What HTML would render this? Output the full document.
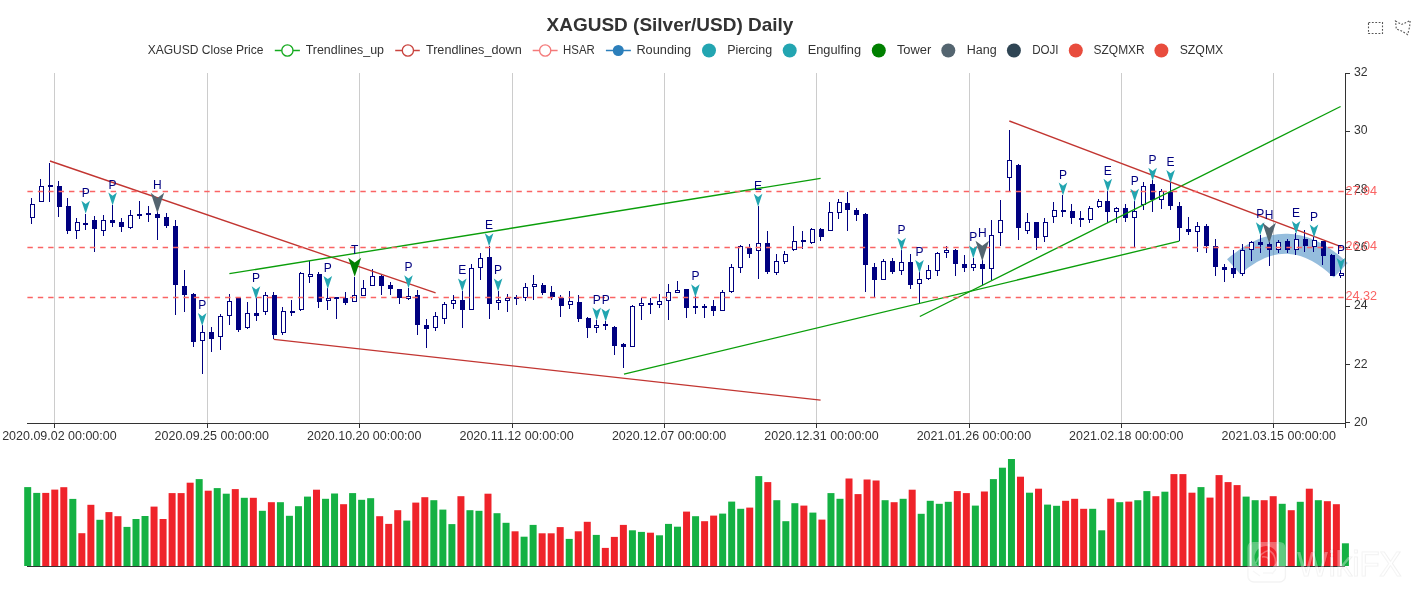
<!DOCTYPE html>
<html><head><meta charset="utf-8"><style>html,body{margin:0;padding:0;background:#fff;width:1412px;height:598px;overflow:hidden}</style></head>
<body><svg width="1412" height="598" viewBox="0 0 1412 598" style="display:block;font-family:'Liberation Sans', sans-serif;will-change:transform">
<rect width="1412" height="598" fill="#fff"/>
<line x1="54.5" y1="73" x2="54.5" y2="423" stroke="#ccc" stroke-width="1"/>
<line x1="207.5" y1="73" x2="207.5" y2="423" stroke="#ccc" stroke-width="1"/>
<line x1="359.5" y1="73" x2="359.5" y2="423" stroke="#ccc" stroke-width="1"/>
<line x1="512.5" y1="73" x2="512.5" y2="423" stroke="#ccc" stroke-width="1"/>
<line x1="664.5" y1="73" x2="664.5" y2="423" stroke="#ccc" stroke-width="1"/>
<line x1="816.5" y1="73" x2="816.5" y2="423" stroke="#ccc" stroke-width="1"/>
<line x1="969.5" y1="73" x2="969.5" y2="423" stroke="#ccc" stroke-width="1"/>
<line x1="1121.5" y1="73" x2="1121.5" y2="423" stroke="#ccc" stroke-width="1"/>
<line x1="1273.5" y1="73" x2="1273.5" y2="423" stroke="#ccc" stroke-width="1"/>
<path d="M1233.7,266.8 Q1287.3,219 1340.8,270.3" fill="none" stroke="#2c7bbb" stroke-opacity="0.5" stroke-width="20"/>
<rect x="31" y="198" width="1" height="6" fill="#000080"/>
<rect x="31" y="218" width="1" height="6" fill="#000080"/>
<rect x="30" y="204" width="5" height="14" fill="#000080"/>
<rect x="31" y="205" width="3" height="12" fill="#fff"/>
<rect x="40" y="179" width="1" height="7" fill="#000080"/>
<rect x="39" y="186" width="5" height="16" fill="#000080"/>
<rect x="40" y="187" width="3" height="14" fill="#fff"/>
<rect x="49" y="163" width="1" height="39" fill="#000080"/>
<rect x="48" y="185" width="5" height="2" fill="#000080"/>
<rect x="58" y="181" width="1" height="5" fill="#000080"/>
<rect x="58" y="207" width="1" height="10" fill="#000080"/>
<rect x="57" y="186" width="5" height="21" fill="#000080"/>
<rect x="67" y="198" width="1" height="8" fill="#000080"/>
<rect x="67" y="231" width="1" height="3" fill="#000080"/>
<rect x="66" y="206" width="5" height="25" fill="#000080"/>
<rect x="76" y="218" width="1" height="4" fill="#000080"/>
<rect x="76" y="231" width="1" height="8" fill="#000080"/>
<rect x="75" y="222" width="5" height="9" fill="#000080"/>
<rect x="76" y="223" width="3" height="7" fill="#fff"/>
<rect x="85" y="214" width="1" height="16" fill="#000080"/>
<rect x="83" y="223" width="5" height="2" fill="#000080"/>
<rect x="94" y="216" width="1" height="4" fill="#000080"/>
<rect x="94" y="229" width="1" height="23" fill="#000080"/>
<rect x="92" y="220" width="5" height="9" fill="#000080"/>
<rect x="103" y="215" width="1" height="5" fill="#000080"/>
<rect x="103" y="231" width="1" height="5" fill="#000080"/>
<rect x="101" y="220" width="5" height="11" fill="#000080"/>
<rect x="102" y="221" width="3" height="9" fill="#fff"/>
<rect x="112" y="205" width="1" height="15" fill="#000080"/>
<rect x="112" y="223" width="1" height="4" fill="#000080"/>
<rect x="110" y="220" width="5" height="3" fill="#000080"/>
<rect x="121" y="218" width="1" height="4" fill="#000080"/>
<rect x="121" y="227" width="1" height="5" fill="#000080"/>
<rect x="119" y="222" width="5" height="5" fill="#000080"/>
<rect x="130" y="210" width="1" height="5" fill="#000080"/>
<rect x="130" y="228" width="1" height="1" fill="#000080"/>
<rect x="128" y="215" width="5" height="13" fill="#000080"/>
<rect x="129" y="216" width="3" height="11" fill="#fff"/>
<rect x="139" y="201" width="1" height="18" fill="#000080"/>
<rect x="137" y="214" width="5" height="2" fill="#000080"/>
<rect x="148" y="206" width="1" height="16" fill="#000080"/>
<rect x="146" y="213" width="5" height="2" fill="#000080"/>
<rect x="157" y="212" width="1" height="2" fill="#000080"/>
<rect x="157" y="218" width="1" height="22" fill="#000080"/>
<rect x="155" y="214" width="5" height="4" fill="#000080"/>
<rect x="166" y="213" width="1" height="4" fill="#000080"/>
<rect x="166" y="226" width="1" height="2" fill="#000080"/>
<rect x="164" y="217" width="5" height="9" fill="#000080"/>
<rect x="175" y="220" width="1" height="6" fill="#000080"/>
<rect x="175" y="285" width="1" height="30" fill="#000080"/>
<rect x="173" y="226" width="5" height="59" fill="#000080"/>
<rect x="184" y="270" width="1" height="16" fill="#000080"/>
<rect x="184" y="295" width="1" height="17" fill="#000080"/>
<rect x="182" y="286" width="5" height="9" fill="#000080"/>
<rect x="193" y="293" width="1" height="1" fill="#000080"/>
<rect x="193" y="342" width="1" height="5" fill="#000080"/>
<rect x="191" y="294" width="5" height="48" fill="#000080"/>
<rect x="202" y="325" width="1" height="7" fill="#000080"/>
<rect x="202" y="341" width="1" height="33" fill="#000080"/>
<rect x="200" y="332" width="5" height="9" fill="#000080"/>
<rect x="201" y="333" width="3" height="7" fill="#fff"/>
<rect x="211" y="327" width="1" height="5" fill="#000080"/>
<rect x="211" y="339" width="1" height="13" fill="#000080"/>
<rect x="209" y="332" width="5" height="7" fill="#000080"/>
<rect x="220" y="314" width="1" height="2" fill="#000080"/>
<rect x="220" y="337" width="1" height="13" fill="#000080"/>
<rect x="218" y="316" width="5" height="21" fill="#000080"/>
<rect x="219" y="317" width="3" height="19" fill="#fff"/>
<rect x="229" y="294" width="1" height="7" fill="#000080"/>
<rect x="229" y="316" width="1" height="9" fill="#000080"/>
<rect x="227" y="301" width="5" height="15" fill="#000080"/>
<rect x="228" y="302" width="3" height="13" fill="#fff"/>
<rect x="238" y="297" width="1" height="1" fill="#000080"/>
<rect x="238" y="330" width="1" height="2" fill="#000080"/>
<rect x="236" y="298" width="5" height="32" fill="#000080"/>
<rect x="247" y="302" width="1" height="11" fill="#000080"/>
<rect x="247" y="328" width="1" height="1" fill="#000080"/>
<rect x="245" y="313" width="5" height="15" fill="#000080"/>
<rect x="246" y="314" width="3" height="13" fill="#fff"/>
<rect x="256" y="298" width="1" height="15" fill="#000080"/>
<rect x="256" y="316" width="1" height="5" fill="#000080"/>
<rect x="254" y="313" width="5" height="3" fill="#000080"/>
<rect x="265" y="292" width="1" height="3" fill="#000080"/>
<rect x="265" y="312" width="1" height="3" fill="#000080"/>
<rect x="263" y="295" width="5" height="17" fill="#000080"/>
<rect x="264" y="296" width="3" height="15" fill="#fff"/>
<rect x="273" y="292" width="1" height="3" fill="#000080"/>
<rect x="273" y="335" width="1" height="4" fill="#000080"/>
<rect x="272" y="295" width="5" height="40" fill="#000080"/>
<rect x="282" y="307" width="1" height="4" fill="#000080"/>
<rect x="282" y="333" width="1" height="2" fill="#000080"/>
<rect x="281" y="311" width="5" height="22" fill="#000080"/>
<rect x="282" y="312" width="3" height="20" fill="#fff"/>
<rect x="291" y="300" width="1" height="16" fill="#000080"/>
<rect x="290" y="311" width="5" height="2" fill="#000080"/>
<rect x="300" y="272" width="1" height="1" fill="#000080"/>
<rect x="300" y="310" width="1" height="1" fill="#000080"/>
<rect x="299" y="273" width="5" height="37" fill="#000080"/>
<rect x="300" y="274" width="3" height="35" fill="#fff"/>
<rect x="309" y="261" width="1" height="13" fill="#000080"/>
<rect x="309" y="277" width="1" height="6" fill="#000080"/>
<rect x="308" y="274" width="5" height="3" fill="#000080"/>
<rect x="309" y="275" width="3" height="1" fill="#fff"/>
<rect x="318" y="272" width="1" height="2" fill="#000080"/>
<rect x="318" y="302" width="1" height="6" fill="#000080"/>
<rect x="317" y="274" width="5" height="28" fill="#000080"/>
<rect x="327" y="288" width="1" height="10" fill="#000080"/>
<rect x="327" y="301" width="1" height="9" fill="#000080"/>
<rect x="326" y="298" width="5" height="3" fill="#000080"/>
<rect x="327" y="299" width="3" height="1" fill="#fff"/>
<rect x="336" y="297" width="1" height="22" fill="#000080"/>
<rect x="334" y="297" width="5" height="2" fill="#000080"/>
<rect x="345" y="292" width="1" height="6" fill="#000080"/>
<rect x="345" y="303" width="1" height="2" fill="#000080"/>
<rect x="343" y="298" width="5" height="5" fill="#000080"/>
<rect x="354" y="277" width="1" height="18" fill="#000080"/>
<rect x="352" y="295" width="5" height="7" fill="#000080"/>
<rect x="353" y="296" width="3" height="5" fill="#fff"/>
<rect x="363" y="280" width="1" height="8" fill="#000080"/>
<rect x="361" y="288" width="5" height="8" fill="#000080"/>
<rect x="362" y="289" width="3" height="6" fill="#fff"/>
<rect x="372" y="269" width="1" height="7" fill="#000080"/>
<rect x="370" y="276" width="5" height="10" fill="#000080"/>
<rect x="371" y="277" width="3" height="8" fill="#fff"/>
<rect x="381" y="275" width="1" height="1" fill="#000080"/>
<rect x="381" y="286" width="1" height="9" fill="#000080"/>
<rect x="379" y="276" width="5" height="10" fill="#000080"/>
<rect x="390" y="282" width="1" height="3" fill="#000080"/>
<rect x="390" y="289" width="1" height="6" fill="#000080"/>
<rect x="388" y="285" width="5" height="4" fill="#000080"/>
<rect x="399" y="298" width="1" height="6" fill="#000080"/>
<rect x="397" y="289" width="5" height="9" fill="#000080"/>
<rect x="408" y="288" width="1" height="8" fill="#000080"/>
<rect x="408" y="299" width="1" height="1" fill="#000080"/>
<rect x="406" y="296" width="5" height="3" fill="#000080"/>
<rect x="407" y="297" width="3" height="1" fill="#fff"/>
<rect x="417" y="290" width="1" height="5" fill="#000080"/>
<rect x="417" y="325" width="1" height="10" fill="#000080"/>
<rect x="415" y="295" width="5" height="30" fill="#000080"/>
<rect x="426" y="319" width="1" height="6" fill="#000080"/>
<rect x="426" y="329" width="1" height="19" fill="#000080"/>
<rect x="424" y="325" width="5" height="4" fill="#000080"/>
<rect x="435" y="312" width="1" height="4" fill="#000080"/>
<rect x="435" y="328" width="1" height="3" fill="#000080"/>
<rect x="433" y="316" width="5" height="12" fill="#000080"/>
<rect x="434" y="317" width="3" height="10" fill="#fff"/>
<rect x="444" y="302" width="1" height="2" fill="#000080"/>
<rect x="444" y="319" width="1" height="5" fill="#000080"/>
<rect x="442" y="304" width="5" height="15" fill="#000080"/>
<rect x="443" y="305" width="3" height="13" fill="#fff"/>
<rect x="453" y="295" width="1" height="5" fill="#000080"/>
<rect x="453" y="304" width="1" height="5" fill="#000080"/>
<rect x="451" y="300" width="5" height="4" fill="#000080"/>
<rect x="452" y="301" width="3" height="2" fill="#fff"/>
<rect x="462" y="291" width="1" height="9" fill="#000080"/>
<rect x="462" y="310" width="1" height="18" fill="#000080"/>
<rect x="460" y="300" width="5" height="10" fill="#000080"/>
<rect x="471" y="264" width="1" height="4" fill="#000080"/>
<rect x="469" y="268" width="5" height="42" fill="#000080"/>
<rect x="470" y="269" width="3" height="40" fill="#fff"/>
<rect x="480" y="253" width="1" height="5" fill="#000080"/>
<rect x="480" y="268" width="1" height="12" fill="#000080"/>
<rect x="478" y="258" width="5" height="10" fill="#000080"/>
<rect x="479" y="259" width="3" height="8" fill="#fff"/>
<rect x="489" y="246" width="1" height="11" fill="#000080"/>
<rect x="489" y="304" width="1" height="15" fill="#000080"/>
<rect x="487" y="257" width="5" height="47" fill="#000080"/>
<rect x="498" y="291" width="1" height="9" fill="#000080"/>
<rect x="498" y="303" width="1" height="7" fill="#000080"/>
<rect x="496" y="300" width="5" height="3" fill="#000080"/>
<rect x="497" y="301" width="3" height="1" fill="#fff"/>
<rect x="507" y="294" width="1" height="4" fill="#000080"/>
<rect x="507" y="301" width="1" height="11" fill="#000080"/>
<rect x="505" y="298" width="5" height="3" fill="#000080"/>
<rect x="506" y="299" width="3" height="1" fill="#fff"/>
<rect x="516" y="295" width="1" height="10" fill="#000080"/>
<rect x="514" y="297" width="5" height="2" fill="#000080"/>
<rect x="525" y="283" width="1" height="4" fill="#000080"/>
<rect x="525" y="298" width="1" height="3" fill="#000080"/>
<rect x="523" y="287" width="5" height="11" fill="#000080"/>
<rect x="524" y="288" width="3" height="9" fill="#fff"/>
<rect x="533" y="275" width="1" height="9" fill="#000080"/>
<rect x="533" y="287" width="1" height="13" fill="#000080"/>
<rect x="532" y="284" width="5" height="3" fill="#000080"/>
<rect x="533" y="285" width="3" height="1" fill="#fff"/>
<rect x="542" y="283" width="1" height="2" fill="#000080"/>
<rect x="542" y="293" width="1" height="2" fill="#000080"/>
<rect x="541" y="285" width="5" height="8" fill="#000080"/>
<rect x="551" y="286" width="1" height="6" fill="#000080"/>
<rect x="551" y="297" width="1" height="3" fill="#000080"/>
<rect x="550" y="292" width="5" height="5" fill="#000080"/>
<rect x="560" y="295" width="1" height="3" fill="#000080"/>
<rect x="560" y="306" width="1" height="11" fill="#000080"/>
<rect x="559" y="298" width="5" height="8" fill="#000080"/>
<rect x="569" y="291" width="1" height="10" fill="#000080"/>
<rect x="569" y="305" width="1" height="4" fill="#000080"/>
<rect x="568" y="301" width="5" height="4" fill="#000080"/>
<rect x="569" y="302" width="3" height="2" fill="#fff"/>
<rect x="578" y="295" width="1" height="7" fill="#000080"/>
<rect x="578" y="319" width="1" height="3" fill="#000080"/>
<rect x="577" y="302" width="5" height="17" fill="#000080"/>
<rect x="587" y="317" width="1" height="1" fill="#000080"/>
<rect x="587" y="328" width="1" height="10" fill="#000080"/>
<rect x="586" y="318" width="5" height="10" fill="#000080"/>
<rect x="596" y="320" width="1" height="5" fill="#000080"/>
<rect x="596" y="328" width="1" height="5" fill="#000080"/>
<rect x="594" y="325" width="5" height="3" fill="#000080"/>
<rect x="595" y="326" width="3" height="1" fill="#fff"/>
<rect x="605" y="321" width="1" height="9" fill="#000080"/>
<rect x="603" y="324" width="5" height="2" fill="#000080"/>
<rect x="614" y="326" width="1" height="1" fill="#000080"/>
<rect x="614" y="346" width="1" height="9" fill="#000080"/>
<rect x="612" y="327" width="5" height="19" fill="#000080"/>
<rect x="623" y="343" width="1" height="1" fill="#000080"/>
<rect x="623" y="347" width="1" height="21" fill="#000080"/>
<rect x="621" y="344" width="5" height="3" fill="#000080"/>
<rect x="632" y="305" width="1" height="1" fill="#000080"/>
<rect x="630" y="306" width="5" height="41" fill="#000080"/>
<rect x="631" y="307" width="3" height="39" fill="#fff"/>
<rect x="641" y="298" width="1" height="5" fill="#000080"/>
<rect x="641" y="306" width="1" height="14" fill="#000080"/>
<rect x="639" y="303" width="5" height="3" fill="#000080"/>
<rect x="640" y="304" width="3" height="1" fill="#fff"/>
<rect x="650" y="298" width="1" height="16" fill="#000080"/>
<rect x="648" y="303" width="5" height="2" fill="#000080"/>
<rect x="659" y="294" width="1" height="7" fill="#000080"/>
<rect x="659" y="305" width="1" height="3" fill="#000080"/>
<rect x="657" y="301" width="5" height="4" fill="#000080"/>
<rect x="658" y="302" width="3" height="2" fill="#fff"/>
<rect x="668" y="284" width="1" height="8" fill="#000080"/>
<rect x="668" y="301" width="1" height="19" fill="#000080"/>
<rect x="666" y="292" width="5" height="9" fill="#000080"/>
<rect x="667" y="293" width="3" height="7" fill="#fff"/>
<rect x="677" y="281" width="1" height="9" fill="#000080"/>
<rect x="675" y="290" width="5" height="3" fill="#000080"/>
<rect x="676" y="291" width="3" height="1" fill="#fff"/>
<rect x="686" y="308" width="1" height="10" fill="#000080"/>
<rect x="684" y="289" width="5" height="19" fill="#000080"/>
<rect x="695" y="296" width="1" height="18" fill="#000080"/>
<rect x="693" y="306" width="5" height="2" fill="#000080"/>
<rect x="704" y="304" width="1" height="14" fill="#000080"/>
<rect x="702" y="306" width="5" height="2" fill="#000080"/>
<rect x="713" y="300" width="1" height="6" fill="#000080"/>
<rect x="713" y="311" width="1" height="5" fill="#000080"/>
<rect x="711" y="306" width="5" height="5" fill="#000080"/>
<rect x="722" y="290" width="1" height="2" fill="#000080"/>
<rect x="720" y="292" width="5" height="19" fill="#000080"/>
<rect x="721" y="293" width="3" height="17" fill="#fff"/>
<rect x="731" y="264" width="1" height="3" fill="#000080"/>
<rect x="731" y="292" width="1" height="1" fill="#000080"/>
<rect x="729" y="267" width="5" height="25" fill="#000080"/>
<rect x="730" y="268" width="3" height="23" fill="#fff"/>
<rect x="740" y="245" width="1" height="1" fill="#000080"/>
<rect x="740" y="268" width="1" height="5" fill="#000080"/>
<rect x="738" y="246" width="5" height="22" fill="#000080"/>
<rect x="739" y="247" width="3" height="20" fill="#fff"/>
<rect x="749" y="244" width="1" height="4" fill="#000080"/>
<rect x="749" y="254" width="1" height="4" fill="#000080"/>
<rect x="747" y="248" width="5" height="6" fill="#000080"/>
<rect x="758" y="206" width="1" height="37" fill="#000080"/>
<rect x="758" y="251" width="1" height="28" fill="#000080"/>
<rect x="756" y="243" width="5" height="8" fill="#000080"/>
<rect x="757" y="244" width="3" height="6" fill="#fff"/>
<rect x="767" y="231" width="1" height="12" fill="#000080"/>
<rect x="767" y="272" width="1" height="2" fill="#000080"/>
<rect x="765" y="243" width="5" height="29" fill="#000080"/>
<rect x="776" y="254" width="1" height="7" fill="#000080"/>
<rect x="776" y="273" width="1" height="2" fill="#000080"/>
<rect x="774" y="261" width="5" height="12" fill="#000080"/>
<rect x="775" y="262" width="3" height="10" fill="#fff"/>
<rect x="784" y="251" width="1" height="3" fill="#000080"/>
<rect x="784" y="262" width="1" height="2" fill="#000080"/>
<rect x="783" y="254" width="5" height="8" fill="#000080"/>
<rect x="784" y="255" width="3" height="6" fill="#fff"/>
<rect x="793" y="226" width="1" height="15" fill="#000080"/>
<rect x="793" y="250" width="1" height="1" fill="#000080"/>
<rect x="792" y="241" width="5" height="9" fill="#000080"/>
<rect x="793" y="242" width="3" height="7" fill="#fff"/>
<rect x="802" y="231" width="1" height="18" fill="#000080"/>
<rect x="801" y="240" width="5" height="2" fill="#000080"/>
<rect x="811" y="228" width="1" height="1" fill="#000080"/>
<rect x="811" y="243" width="1" height="1" fill="#000080"/>
<rect x="810" y="229" width="5" height="14" fill="#000080"/>
<rect x="811" y="230" width="3" height="12" fill="#fff"/>
<rect x="820" y="228" width="1" height="1" fill="#000080"/>
<rect x="820" y="237" width="1" height="4" fill="#000080"/>
<rect x="819" y="229" width="5" height="8" fill="#000080"/>
<rect x="829" y="202" width="1" height="10" fill="#000080"/>
<rect x="828" y="212" width="5" height="19" fill="#000080"/>
<rect x="829" y="213" width="3" height="17" fill="#fff"/>
<rect x="838" y="199" width="1" height="3" fill="#000080"/>
<rect x="838" y="213" width="1" height="6" fill="#000080"/>
<rect x="837" y="202" width="5" height="11" fill="#000080"/>
<rect x="838" y="203" width="3" height="9" fill="#fff"/>
<rect x="847" y="192" width="1" height="11" fill="#000080"/>
<rect x="847" y="210" width="1" height="21" fill="#000080"/>
<rect x="845" y="203" width="5" height="7" fill="#000080"/>
<rect x="856" y="208" width="1" height="2" fill="#000080"/>
<rect x="856" y="215" width="1" height="6" fill="#000080"/>
<rect x="854" y="210" width="5" height="5" fill="#000080"/>
<rect x="865" y="213" width="1" height="1" fill="#000080"/>
<rect x="865" y="265" width="1" height="27" fill="#000080"/>
<rect x="863" y="214" width="5" height="51" fill="#000080"/>
<rect x="874" y="263" width="1" height="4" fill="#000080"/>
<rect x="874" y="280" width="1" height="17" fill="#000080"/>
<rect x="872" y="267" width="5" height="13" fill="#000080"/>
<rect x="883" y="259" width="1" height="2" fill="#000080"/>
<rect x="881" y="261" width="5" height="19" fill="#000080"/>
<rect x="882" y="262" width="3" height="17" fill="#fff"/>
<rect x="892" y="258" width="1" height="3" fill="#000080"/>
<rect x="892" y="272" width="1" height="2" fill="#000080"/>
<rect x="890" y="261" width="5" height="11" fill="#000080"/>
<rect x="901" y="250" width="1" height="12" fill="#000080"/>
<rect x="901" y="271" width="1" height="4" fill="#000080"/>
<rect x="899" y="262" width="5" height="9" fill="#000080"/>
<rect x="900" y="263" width="3" height="7" fill="#fff"/>
<rect x="910" y="254" width="1" height="8" fill="#000080"/>
<rect x="910" y="285" width="1" height="4" fill="#000080"/>
<rect x="908" y="262" width="5" height="23" fill="#000080"/>
<rect x="919" y="272" width="1" height="7" fill="#000080"/>
<rect x="919" y="284" width="1" height="20" fill="#000080"/>
<rect x="917" y="279" width="5" height="5" fill="#000080"/>
<rect x="918" y="280" width="3" height="3" fill="#fff"/>
<rect x="928" y="265" width="1" height="5" fill="#000080"/>
<rect x="928" y="279" width="1" height="1" fill="#000080"/>
<rect x="926" y="270" width="5" height="9" fill="#000080"/>
<rect x="927" y="271" width="3" height="7" fill="#fff"/>
<rect x="937" y="252" width="1" height="1" fill="#000080"/>
<rect x="937" y="271" width="1" height="5" fill="#000080"/>
<rect x="935" y="253" width="5" height="18" fill="#000080"/>
<rect x="936" y="254" width="3" height="16" fill="#fff"/>
<rect x="946" y="246" width="1" height="4" fill="#000080"/>
<rect x="946" y="253" width="1" height="5" fill="#000080"/>
<rect x="944" y="250" width="5" height="3" fill="#000080"/>
<rect x="945" y="251" width="3" height="1" fill="#fff"/>
<rect x="955" y="249" width="1" height="1" fill="#000080"/>
<rect x="955" y="264" width="1" height="12" fill="#000080"/>
<rect x="953" y="250" width="5" height="14" fill="#000080"/>
<rect x="964" y="255" width="1" height="9" fill="#000080"/>
<rect x="964" y="268" width="1" height="4" fill="#000080"/>
<rect x="962" y="264" width="5" height="4" fill="#000080"/>
<rect x="973" y="258" width="1" height="6" fill="#000080"/>
<rect x="973" y="268" width="1" height="3" fill="#000080"/>
<rect x="971" y="264" width="5" height="4" fill="#000080"/>
<rect x="972" y="265" width="3" height="2" fill="#fff"/>
<rect x="982" y="260" width="1" height="4" fill="#000080"/>
<rect x="982" y="269" width="1" height="16" fill="#000080"/>
<rect x="980" y="264" width="5" height="5" fill="#000080"/>
<rect x="991" y="220" width="1" height="15" fill="#000080"/>
<rect x="991" y="269" width="1" height="11" fill="#000080"/>
<rect x="989" y="235" width="5" height="34" fill="#000080"/>
<rect x="990" y="236" width="3" height="32" fill="#fff"/>
<rect x="1000" y="200" width="1" height="20" fill="#000080"/>
<rect x="1000" y="233" width="1" height="13" fill="#000080"/>
<rect x="998" y="220" width="5" height="13" fill="#000080"/>
<rect x="999" y="221" width="3" height="11" fill="#fff"/>
<rect x="1009" y="130" width="1" height="30" fill="#000080"/>
<rect x="1009" y="178" width="1" height="14" fill="#000080"/>
<rect x="1007" y="160" width="5" height="18" fill="#000080"/>
<rect x="1008" y="161" width="3" height="16" fill="#fff"/>
<rect x="1018" y="164" width="1" height="1" fill="#000080"/>
<rect x="1018" y="228" width="1" height="12" fill="#000080"/>
<rect x="1016" y="165" width="5" height="63" fill="#000080"/>
<rect x="1027" y="213" width="1" height="9" fill="#000080"/>
<rect x="1027" y="231" width="1" height="3" fill="#000080"/>
<rect x="1025" y="222" width="5" height="9" fill="#000080"/>
<rect x="1026" y="223" width="3" height="7" fill="#fff"/>
<rect x="1036" y="238" width="1" height="12" fill="#000080"/>
<rect x="1034" y="222" width="5" height="16" fill="#000080"/>
<rect x="1044" y="218" width="1" height="4" fill="#000080"/>
<rect x="1044" y="237" width="1" height="5" fill="#000080"/>
<rect x="1043" y="222" width="5" height="15" fill="#000080"/>
<rect x="1044" y="223" width="3" height="13" fill="#fff"/>
<rect x="1053" y="202" width="1" height="8" fill="#000080"/>
<rect x="1053" y="217" width="1" height="6" fill="#000080"/>
<rect x="1052" y="210" width="5" height="7" fill="#000080"/>
<rect x="1053" y="211" width="3" height="5" fill="#fff"/>
<rect x="1062" y="195" width="1" height="22" fill="#000080"/>
<rect x="1061" y="210" width="5" height="2" fill="#000080"/>
<rect x="1071" y="204" width="1" height="7" fill="#000080"/>
<rect x="1071" y="218" width="1" height="6" fill="#000080"/>
<rect x="1070" y="211" width="5" height="7" fill="#000080"/>
<rect x="1080" y="211" width="1" height="16" fill="#000080"/>
<rect x="1079" y="218" width="5" height="2" fill="#000080"/>
<rect x="1089" y="206" width="1" height="2" fill="#000080"/>
<rect x="1089" y="220" width="1" height="3" fill="#000080"/>
<rect x="1088" y="208" width="5" height="12" fill="#000080"/>
<rect x="1089" y="209" width="3" height="10" fill="#fff"/>
<rect x="1098" y="199" width="1" height="2" fill="#000080"/>
<rect x="1098" y="207" width="1" height="1" fill="#000080"/>
<rect x="1097" y="201" width="5" height="6" fill="#000080"/>
<rect x="1098" y="202" width="3" height="4" fill="#fff"/>
<rect x="1107" y="191" width="1" height="10" fill="#000080"/>
<rect x="1107" y="212" width="1" height="11" fill="#000080"/>
<rect x="1105" y="201" width="5" height="11" fill="#000080"/>
<rect x="1116" y="207" width="1" height="1" fill="#000080"/>
<rect x="1116" y="212" width="1" height="11" fill="#000080"/>
<rect x="1114" y="208" width="5" height="4" fill="#000080"/>
<rect x="1115" y="209" width="3" height="2" fill="#fff"/>
<rect x="1125" y="204" width="1" height="4" fill="#000080"/>
<rect x="1125" y="218" width="1" height="4" fill="#000080"/>
<rect x="1123" y="208" width="5" height="10" fill="#000080"/>
<rect x="1134" y="201" width="1" height="10" fill="#000080"/>
<rect x="1134" y="218" width="1" height="29" fill="#000080"/>
<rect x="1132" y="211" width="5" height="7" fill="#000080"/>
<rect x="1133" y="212" width="3" height="5" fill="#fff"/>
<rect x="1143" y="182" width="1" height="4" fill="#000080"/>
<rect x="1143" y="205" width="1" height="5" fill="#000080"/>
<rect x="1141" y="186" width="5" height="19" fill="#000080"/>
<rect x="1142" y="187" width="3" height="17" fill="#fff"/>
<rect x="1152" y="180" width="1" height="4" fill="#000080"/>
<rect x="1152" y="200" width="1" height="12" fill="#000080"/>
<rect x="1150" y="184" width="5" height="16" fill="#000080"/>
<rect x="1161" y="189" width="1" height="2" fill="#000080"/>
<rect x="1161" y="200" width="1" height="9" fill="#000080"/>
<rect x="1159" y="191" width="5" height="9" fill="#000080"/>
<rect x="1160" y="192" width="3" height="7" fill="#fff"/>
<rect x="1170" y="182" width="1" height="10" fill="#000080"/>
<rect x="1170" y="206" width="1" height="4" fill="#000080"/>
<rect x="1168" y="192" width="5" height="14" fill="#000080"/>
<rect x="1179" y="202" width="1" height="4" fill="#000080"/>
<rect x="1179" y="228" width="1" height="13" fill="#000080"/>
<rect x="1177" y="206" width="5" height="22" fill="#000080"/>
<rect x="1188" y="217" width="1" height="12" fill="#000080"/>
<rect x="1188" y="232" width="1" height="3" fill="#000080"/>
<rect x="1186" y="229" width="5" height="3" fill="#000080"/>
<rect x="1197" y="222" width="1" height="4" fill="#000080"/>
<rect x="1197" y="232" width="1" height="20" fill="#000080"/>
<rect x="1195" y="226" width="5" height="6" fill="#000080"/>
<rect x="1196" y="227" width="3" height="4" fill="#fff"/>
<rect x="1206" y="224" width="1" height="2" fill="#000080"/>
<rect x="1206" y="246" width="1" height="7" fill="#000080"/>
<rect x="1204" y="226" width="5" height="20" fill="#000080"/>
<rect x="1215" y="239" width="1" height="7" fill="#000080"/>
<rect x="1215" y="267" width="1" height="9" fill="#000080"/>
<rect x="1213" y="246" width="5" height="21" fill="#000080"/>
<rect x="1224" y="264" width="1" height="3" fill="#000080"/>
<rect x="1224" y="270" width="1" height="12" fill="#000080"/>
<rect x="1222" y="267" width="5" height="3" fill="#000080"/>
<rect x="1233" y="250" width="1" height="18" fill="#000080"/>
<rect x="1233" y="274" width="1" height="4" fill="#000080"/>
<rect x="1231" y="268" width="5" height="6" fill="#000080"/>
<rect x="1242" y="244" width="1" height="6" fill="#000080"/>
<rect x="1242" y="274" width="1" height="2" fill="#000080"/>
<rect x="1240" y="250" width="5" height="24" fill="#000080"/>
<rect x="1241" y="251" width="3" height="22" fill="#fff"/>
<rect x="1251" y="241" width="1" height="1" fill="#000080"/>
<rect x="1251" y="250" width="1" height="11" fill="#000080"/>
<rect x="1249" y="242" width="5" height="8" fill="#000080"/>
<rect x="1250" y="243" width="3" height="6" fill="#fff"/>
<rect x="1260" y="235" width="1" height="7" fill="#000080"/>
<rect x="1260" y="245" width="1" height="8" fill="#000080"/>
<rect x="1258" y="242" width="5" height="3" fill="#000080"/>
<rect x="1269" y="242" width="1" height="2" fill="#000080"/>
<rect x="1269" y="250" width="1" height="16" fill="#000080"/>
<rect x="1267" y="244" width="5" height="6" fill="#000080"/>
<rect x="1278" y="240" width="1" height="2" fill="#000080"/>
<rect x="1278" y="250" width="1" height="3" fill="#000080"/>
<rect x="1276" y="242" width="5" height="8" fill="#000080"/>
<rect x="1277" y="243" width="3" height="6" fill="#fff"/>
<rect x="1287" y="239" width="1" height="2" fill="#000080"/>
<rect x="1287" y="250" width="1" height="3" fill="#000080"/>
<rect x="1285" y="241" width="5" height="9" fill="#000080"/>
<rect x="1295" y="233" width="1" height="6" fill="#000080"/>
<rect x="1295" y="250" width="1" height="5" fill="#000080"/>
<rect x="1294" y="239" width="5" height="11" fill="#000080"/>
<rect x="1295" y="240" width="3" height="9" fill="#fff"/>
<rect x="1304" y="230" width="1" height="9" fill="#000080"/>
<rect x="1304" y="246" width="1" height="6" fill="#000080"/>
<rect x="1303" y="239" width="5" height="7" fill="#000080"/>
<rect x="1313" y="237" width="1" height="3" fill="#000080"/>
<rect x="1313" y="247" width="1" height="5" fill="#000080"/>
<rect x="1312" y="240" width="5" height="7" fill="#000080"/>
<rect x="1313" y="241" width="3" height="5" fill="#fff"/>
<rect x="1322" y="256" width="1" height="9" fill="#000080"/>
<rect x="1321" y="241" width="5" height="15" fill="#000080"/>
<rect x="1331" y="254" width="1" height="1" fill="#000080"/>
<rect x="1330" y="255" width="5" height="21" fill="#000080"/>
<rect x="1340" y="270" width="1" height="3" fill="#000080"/>
<rect x="1340" y="276" width="1" height="2" fill="#000080"/>
<rect x="1339" y="273" width="5" height="3" fill="#000080"/>
<rect x="1340" y="274" width="3" height="1" fill="#fff"/>
<line x1="50" y1="161" x2="435.6" y2="292.8" stroke="#c23531" stroke-width="1.35"/>
<line x1="273.8" y1="339.4" x2="820.6" y2="400.2" stroke="#c23531" stroke-width="1.35"/>
<line x1="229.4" y1="273.7" x2="820.6" y2="178.4" stroke="#0a9e0a" stroke-width="1.35"/>
<line x1="624" y1="374.2" x2="1179.3" y2="241.2" stroke="#0a9e0a" stroke-width="1.35"/>
<line x1="919.8" y1="316.5" x2="1340.6" y2="106.5" stroke="#0a9e0a" stroke-width="1.35"/>
<line x1="1009.3" y1="121" x2="1341" y2="246.6" stroke="#c23531" stroke-width="1.35"/>
<line x1="27.4" y1="191.50" x2="1345" y2="191.50" stroke="#fa6464" stroke-width="1.4" stroke-dasharray="5.4,5.004"/>
<line x1="27.4" y1="247.50" x2="1345" y2="247.50" stroke="#fa6464" stroke-width="1.4" stroke-dasharray="5.4,5.004"/>
<line x1="27.4" y1="297.50" x2="1345" y2="297.50" stroke="#fa6464" stroke-width="1.4" stroke-dasharray="5.4,5.004"/>
<path d="M85.7,213.7 L90.0,200.7 L85.7,203.9 L81.4,200.7 Z" fill="#22a5b0"/>
<text x="85.7" y="196.7" font-size="12" fill="#000080" text-anchor="middle">P</text>
<path d="M112.6,205.5 L116.9,192.5 L112.6,195.8 L108.3,192.5 Z" fill="#22a5b0"/>
<text x="112.6" y="188.5" font-size="12" fill="#000080" text-anchor="middle">P</text>
<path d="M157.4,213.3 L164.2,192.8 L157.4,197.9 L150.7,192.8 Z" fill="#546570"/>
<text x="157.4" y="188.8" font-size="12" fill="#000080" text-anchor="middle">H</text>
<path d="M202.2,326.1 L206.5,313.1 L202.2,316.3 L197.9,313.1 Z" fill="#22a5b0"/>
<text x="202.2" y="309.1" font-size="12" fill="#000080" text-anchor="middle">P</text>
<path d="M256.0,299.2 L260.3,286.2 L256.0,289.4 L251.7,286.2 Z" fill="#22a5b0"/>
<text x="256.0" y="282.2" font-size="12" fill="#000080" text-anchor="middle">P</text>
<path d="M327.8,288.9 L332.1,275.9 L327.8,279.1 L323.5,275.9 Z" fill="#22a5b0"/>
<text x="327.8" y="271.9" font-size="12" fill="#000080" text-anchor="middle">P</text>
<path d="M354.7,276.8 L361.2,257.8 L354.7,262.6 L348.2,257.8 Z" fill="#008000"/>
<text x="354.7" y="253.8" font-size="12" fill="#000080" text-anchor="middle">T</text>
<path d="M408.5,288.2 L412.8,275.2 L408.5,278.4 L404.2,275.2 Z" fill="#22a5b0"/>
<text x="408.5" y="271.2" font-size="12" fill="#000080" text-anchor="middle">P</text>
<path d="M462.3,291.4 L466.6,278.4 L462.3,281.6 L458.0,278.4 Z" fill="#22a5b0"/>
<text x="462.3" y="274.4" font-size="12" fill="#000080" text-anchor="middle">E</text>
<path d="M489.1,246.3 L493.4,233.3 L489.1,236.5 L484.8,233.3 Z" fill="#22a5b0"/>
<text x="489.1" y="229.3" font-size="12" fill="#000080" text-anchor="middle">E</text>
<path d="M498.1,291.4 L502.4,278.4 L498.1,281.6 L493.8,278.4 Z" fill="#22a5b0"/>
<text x="498.1" y="274.4" font-size="12" fill="#000080" text-anchor="middle">P</text>
<path d="M596.7,320.5 L601.0,307.5 L596.7,310.8 L592.4,307.5 Z" fill="#22a5b0"/>
<text x="596.7" y="303.5" font-size="12" fill="#000080" text-anchor="middle">P</text>
<path d="M605.7,321.4 L610.0,308.4 L605.7,311.6 L601.4,308.4 Z" fill="#22a5b0"/>
<text x="605.7" y="304.4" font-size="12" fill="#000080" text-anchor="middle">P</text>
<path d="M695.4,297.2 L699.7,284.2 L695.4,287.4 L691.1,284.2 Z" fill="#22a5b0"/>
<text x="695.4" y="280.2" font-size="12" fill="#000080" text-anchor="middle">P</text>
<path d="M758.1,206.8 L762.4,193.8 L758.1,197.0 L753.8,193.8 Z" fill="#22a5b0"/>
<text x="758.1" y="189.8" font-size="12" fill="#000080" text-anchor="middle">E</text>
<path d="M901.6,250.8 L905.9,237.8 L901.6,241.0 L897.3,237.8 Z" fill="#22a5b0"/>
<text x="901.6" y="233.8" font-size="12" fill="#000080" text-anchor="middle">P</text>
<path d="M919.5,272.9 L923.8,259.9 L919.5,263.1 L915.2,259.9 Z" fill="#22a5b0"/>
<text x="919.5" y="255.9" font-size="12" fill="#000080" text-anchor="middle">P</text>
<path d="M973.3,258.4 L977.6,245.4 L973.3,248.6 L969.0,245.4 Z" fill="#22a5b0"/>
<text x="973.3" y="241.4" font-size="12" fill="#000080" text-anchor="middle">P</text>
<path d="M982.3,261.2 L989.0,240.7 L982.3,245.8 L975.5,240.7 Z" fill="#546570"/>
<text x="982.3" y="236.7" font-size="12" fill="#000080" text-anchor="middle">H</text>
<path d="M1063.0,195.5 L1067.3,182.5 L1063.0,185.8 L1058.7,182.5 Z" fill="#22a5b0"/>
<text x="1063.0" y="178.5" font-size="12" fill="#000080" text-anchor="middle">P</text>
<path d="M1107.8,191.8 L1112.1,178.8 L1107.8,182.0 L1103.5,178.8 Z" fill="#22a5b0"/>
<text x="1107.8" y="174.8" font-size="12" fill="#000080" text-anchor="middle">E</text>
<path d="M1134.7,201.8 L1139.0,188.8 L1134.7,192.0 L1130.4,188.8 Z" fill="#22a5b0"/>
<text x="1134.7" y="184.8" font-size="12" fill="#000080" text-anchor="middle">P</text>
<path d="M1152.6,180.7 L1156.9,167.7 L1152.6,170.9 L1148.3,167.7 Z" fill="#22a5b0"/>
<text x="1152.6" y="163.7" font-size="12" fill="#000080" text-anchor="middle">P</text>
<path d="M1170.6,183.0 L1174.9,170.0 L1170.6,173.2 L1166.3,170.0 Z" fill="#22a5b0"/>
<text x="1170.6" y="166.0" font-size="12" fill="#000080" text-anchor="middle">E</text>
<path d="M1260.2,235.3 L1264.5,222.3 L1260.2,225.5 L1255.9,222.3 Z" fill="#22a5b0"/>
<text x="1260.2" y="218.3" font-size="12" fill="#000080" text-anchor="middle">P</text>
<path d="M1269.2,243.3 L1275.9,222.8 L1269.2,227.9 L1262.4,222.8 Z" fill="#546570"/>
<text x="1269.2" y="218.8" font-size="12" fill="#000080" text-anchor="middle">H</text>
<path d="M1296.1,234.1 L1300.4,221.1 L1296.1,224.3 L1291.8,221.1 Z" fill="#22a5b0"/>
<text x="1296.1" y="217.1" font-size="12" fill="#000080" text-anchor="middle">E</text>
<path d="M1314.0,237.5 L1318.3,224.5 L1314.0,227.8 L1309.7,224.5 Z" fill="#22a5b0"/>
<text x="1314.0" y="220.5" font-size="12" fill="#000080" text-anchor="middle">P</text>
<path d="M1340.9,271.0 L1345.2,258.0 L1340.9,261.2 L1336.6,258.0 Z" fill="#22a5b0"/>
<text x="1340.9" y="254.0" font-size="12" fill="#000080" text-anchor="middle">P</text>
<line x1="27" y1="423.5" x2="1345" y2="423.5" stroke="#333" stroke-width="1"/>
<line x1="1345.5" y1="73" x2="1345.5" y2="428" stroke="#333" stroke-width="1"/>
<line x1="54.5" y1="423" x2="54.5" y2="428" stroke="#333" stroke-width="1"/>
<text x="59.4" y="439.8" font-size="12" fill="#333" text-anchor="middle" textLength="114.4" lengthAdjust="spacingAndGlyphs">2020.09.02 00:00:00</text>
<line x1="207.5" y1="423" x2="207.5" y2="428" stroke="#333" stroke-width="1"/>
<text x="211.8" y="439.8" font-size="12" fill="#333" text-anchor="middle" textLength="114.4" lengthAdjust="spacingAndGlyphs">2020.09.25 00:00:00</text>
<line x1="359.5" y1="423" x2="359.5" y2="428" stroke="#333" stroke-width="1"/>
<text x="364.2" y="439.8" font-size="12" fill="#333" text-anchor="middle" textLength="114.4" lengthAdjust="spacingAndGlyphs">2020.10.20 00:00:00</text>
<line x1="512.5" y1="423" x2="512.5" y2="428" stroke="#333" stroke-width="1"/>
<text x="516.6" y="439.8" font-size="12" fill="#333" text-anchor="middle" textLength="114.4" lengthAdjust="spacingAndGlyphs">2020.11.12 00:00:00</text>
<line x1="664.5" y1="423" x2="664.5" y2="428" stroke="#333" stroke-width="1"/>
<text x="669.1" y="439.8" font-size="12" fill="#333" text-anchor="middle" textLength="114.4" lengthAdjust="spacingAndGlyphs">2020.12.07 00:00:00</text>
<line x1="816.5" y1="423" x2="816.5" y2="428" stroke="#333" stroke-width="1"/>
<text x="821.5" y="439.8" font-size="12" fill="#333" text-anchor="middle" textLength="114.4" lengthAdjust="spacingAndGlyphs">2020.12.31 00:00:00</text>
<line x1="969.5" y1="423" x2="969.5" y2="428" stroke="#333" stroke-width="1"/>
<text x="973.9" y="439.8" font-size="12" fill="#333" text-anchor="middle" textLength="114.4" lengthAdjust="spacingAndGlyphs">2021.01.26 00:00:00</text>
<line x1="1121.5" y1="423" x2="1121.5" y2="428" stroke="#333" stroke-width="1"/>
<text x="1126.3" y="439.8" font-size="12" fill="#333" text-anchor="middle" textLength="114.4" lengthAdjust="spacingAndGlyphs">2021.02.18 00:00:00</text>
<line x1="1273.5" y1="423" x2="1273.5" y2="428" stroke="#333" stroke-width="1"/>
<text x="1278.8" y="439.8" font-size="12" fill="#333" text-anchor="middle" textLength="114.4" lengthAdjust="spacingAndGlyphs">2021.03.15 00:00:00</text>
<line x1="1345" y1="422.5" x2="1350" y2="422.5" stroke="#333" stroke-width="1"/>
<text x="1354" y="425.7" font-size="12" fill="#333" textLength="13.6" lengthAdjust="spacingAndGlyphs">20</text>
<line x1="1345" y1="364.5" x2="1350" y2="364.5" stroke="#333" stroke-width="1"/>
<text x="1354" y="367.7" font-size="12" fill="#333" textLength="13.6" lengthAdjust="spacingAndGlyphs">22</text>
<line x1="1345" y1="306.5" x2="1350" y2="306.5" stroke="#333" stroke-width="1"/>
<text x="1354" y="308.7" font-size="12" fill="#333" textLength="13.6" lengthAdjust="spacingAndGlyphs">24</text>
<line x1="1345" y1="247.5" x2="1350" y2="247.5" stroke="#333" stroke-width="1"/>
<text x="1354" y="250.7" font-size="12" fill="#333" textLength="13.6" lengthAdjust="spacingAndGlyphs">26</text>
<line x1="1345" y1="189.5" x2="1350" y2="189.5" stroke="#333" stroke-width="1"/>
<text x="1354" y="192.7" font-size="12" fill="#333" textLength="13.6" lengthAdjust="spacingAndGlyphs">28</text>
<line x1="1345" y1="131.5" x2="1350" y2="131.5" stroke="#333" stroke-width="1"/>
<text x="1354" y="133.7" font-size="12" fill="#333" textLength="13.6" lengthAdjust="spacingAndGlyphs">30</text>
<line x1="1345" y1="73.5" x2="1350" y2="73.5" stroke="#333" stroke-width="1"/>
<text x="1354" y="75.7" font-size="12" fill="#333" textLength="13.6" lengthAdjust="spacingAndGlyphs">32</text>
<text x="1345.4" y="194.5" font-size="12.4" fill="#fa6464" textLength="31.6" lengthAdjust="spacingAndGlyphs">27.94</text>
<text x="1345.4" y="249.9" font-size="12.4" fill="#fa6464" textLength="31.6" lengthAdjust="spacingAndGlyphs">26.04</text>
<text x="1345.4" y="300.1" font-size="12.4" fill="#fa6464" textLength="31.6" lengthAdjust="spacingAndGlyphs">24.32</text>
<text x="546.6" y="31.3" font-size="19" font-weight="bold" fill="#333" textLength="246.8" lengthAdjust="spacingAndGlyphs">XAGUSD (Silver/USD) Daily</text>
<text x="147.7" y="53.8" font-size="12" fill="#333" textLength="115.7" lengthAdjust="spacingAndGlyphs">XAGUSD Close Price</text>
<line x1="274.8" y1="50.5" x2="299.9" y2="50.5" stroke="#15aa1f" stroke-width="1.5"/>
<circle cx="287.4" cy="50.5" r="5.6" fill="#fff" stroke="#15aa1f" stroke-width="1.35"/>
<text x="305.7" y="53.8" font-size="12" fill="#333" textLength="78.3" lengthAdjust="spacingAndGlyphs">Trendlines_up</text>
<line x1="395.2" y1="50.5" x2="419.8" y2="50.5" stroke="#c9443f" stroke-width="1.5"/>
<circle cx="407.9" cy="50.5" r="5.6" fill="#fff" stroke="#c9443f" stroke-width="1.35"/>
<text x="425.9" y="53.8" font-size="12" fill="#333" textLength="95.8" lengthAdjust="spacingAndGlyphs">Trendlines_down</text>
<line x1="532.7" y1="50.5" x2="557.6" y2="50.5" stroke="#f47a7a" stroke-width="1.5"/>
<circle cx="545.2" cy="50.5" r="5.6" fill="#fff" stroke="#f47a7a" stroke-width="1.35"/>
<text x="563.1" y="53.8" font-size="12" fill="#333" textLength="31.7" lengthAdjust="spacingAndGlyphs">HSAR</text>
<line x1="605.9" y1="50.5" x2="630.9" y2="50.5" stroke="#2c7fbb" stroke-width="1.5"/>
<circle cx="618.3" cy="50.5" r="5.5" fill="#2c7fbb"/>
<text x="636.4" y="53.8" font-size="12" fill="#333" textLength="54.7" lengthAdjust="spacingAndGlyphs">Rounding</text>
<circle cx="709.0" cy="50.5" r="7" fill="#23a5b1"/>
<text x="727.2" y="53.8" font-size="12" fill="#333" textLength="45.0" lengthAdjust="spacingAndGlyphs">Piercing</text>
<circle cx="789.7" cy="50.5" r="7" fill="#23a5b1"/>
<text x="807.7" y="53.8" font-size="12" fill="#333" textLength="53.4" lengthAdjust="spacingAndGlyphs">Engulfing</text>
<circle cx="878.8" cy="50.5" r="7" fill="#008000"/>
<text x="896.9" y="53.8" font-size="12" fill="#333" textLength="34.4" lengthAdjust="spacingAndGlyphs">Tower</text>
<circle cx="948.3" cy="50.5" r="7" fill="#546570"/>
<text x="966.8" y="53.8" font-size="12" fill="#333" textLength="29.9" lengthAdjust="spacingAndGlyphs">Hang</text>
<circle cx="1013.9" cy="50.5" r="7" fill="#2f4554"/>
<text x="1032.2" y="53.8" font-size="12" fill="#333" textLength="26.4" lengthAdjust="spacingAndGlyphs">DOJI</text>
<circle cx="1075.8" cy="50.5" r="7" fill="#e84c3d"/>
<text x="1093.6" y="53.8" font-size="12" fill="#333" textLength="51.1" lengthAdjust="spacingAndGlyphs">SZQMXR</text>
<circle cx="1161.4" cy="50.5" r="7" fill="#e84c3d"/>
<text x="1179.7" y="53.8" font-size="12" fill="#333" textLength="43.6" lengthAdjust="spacingAndGlyphs">SZQMX</text>
<g fill="none" stroke="#555" stroke-width="1.1" stroke-dasharray="1.8,1.6">
<rect x="1368.5" y="22.5" width="14" height="11"/>
<path d="M1395.5,21 L1401.6,24.5 L1410.2,20.5 L1409.6,27 L1407.6,34.6 L1401.6,31 L1396.3,29 Z"/>
</g>
<rect x="24.20" y="487.1" width="7" height="78.9" fill="#14b143"/>
<rect x="33.23" y="492.9" width="7" height="73.1" fill="#14b143"/>
<rect x="42.25" y="492.9" width="7" height="73.1" fill="#ef232a"/>
<rect x="51.28" y="489.6" width="7" height="76.4" fill="#ef232a"/>
<rect x="60.30" y="487.2" width="7" height="78.8" fill="#ef232a"/>
<rect x="69.33" y="498.9" width="7" height="67.1" fill="#14b143"/>
<rect x="78.35" y="533.2" width="7" height="32.8" fill="#ef232a"/>
<rect x="87.38" y="504.8" width="7" height="61.2" fill="#ef232a"/>
<rect x="96.40" y="519.8" width="7" height="46.2" fill="#14b143"/>
<rect x="105.43" y="512.1" width="7" height="53.9" fill="#ef232a"/>
<rect x="114.45" y="516.2" width="7" height="49.8" fill="#ef232a"/>
<rect x="123.48" y="526.9" width="7" height="39.1" fill="#14b143"/>
<rect x="132.50" y="519.0" width="7" height="47.0" fill="#14b143"/>
<rect x="141.53" y="516.0" width="7" height="50.0" fill="#14b143"/>
<rect x="150.55" y="506.6" width="7" height="59.4" fill="#ef232a"/>
<rect x="159.58" y="519.0" width="7" height="47.0" fill="#ef232a"/>
<rect x="168.61" y="493.1" width="7" height="72.9" fill="#ef232a"/>
<rect x="177.63" y="493.1" width="7" height="72.9" fill="#ef232a"/>
<rect x="186.66" y="482.7" width="7" height="83.3" fill="#ef232a"/>
<rect x="195.68" y="479.1" width="7" height="86.9" fill="#14b143"/>
<rect x="204.71" y="490.7" width="7" height="75.3" fill="#ef232a"/>
<rect x="213.73" y="488.1" width="7" height="77.9" fill="#14b143"/>
<rect x="222.76" y="493.7" width="7" height="72.3" fill="#14b143"/>
<rect x="231.78" y="489.1" width="7" height="76.9" fill="#ef232a"/>
<rect x="240.81" y="497.8" width="7" height="68.2" fill="#14b143"/>
<rect x="249.83" y="497.8" width="7" height="68.2" fill="#ef232a"/>
<rect x="258.86" y="510.8" width="7" height="55.2" fill="#14b143"/>
<rect x="267.88" y="502.2" width="7" height="63.8" fill="#ef232a"/>
<rect x="276.91" y="502.2" width="7" height="63.8" fill="#14b143"/>
<rect x="285.93" y="515.8" width="7" height="50.2" fill="#14b143"/>
<rect x="294.96" y="506.2" width="7" height="59.8" fill="#14b143"/>
<rect x="303.99" y="496.6" width="7" height="69.4" fill="#14b143"/>
<rect x="313.01" y="489.7" width="7" height="76.3" fill="#ef232a"/>
<rect x="322.04" y="498.8" width="7" height="67.2" fill="#14b143"/>
<rect x="331.06" y="493.5" width="7" height="72.5" fill="#14b143"/>
<rect x="340.09" y="504.2" width="7" height="61.8" fill="#ef232a"/>
<rect x="349.11" y="493.1" width="7" height="72.9" fill="#14b143"/>
<rect x="358.14" y="499.8" width="7" height="66.2" fill="#14b143"/>
<rect x="367.16" y="498.2" width="7" height="67.8" fill="#14b143"/>
<rect x="376.19" y="516.2" width="7" height="49.8" fill="#ef232a"/>
<rect x="385.21" y="523.9" width="7" height="42.1" fill="#ef232a"/>
<rect x="394.24" y="510.2" width="7" height="55.8" fill="#ef232a"/>
<rect x="403.26" y="520.6" width="7" height="45.4" fill="#14b143"/>
<rect x="412.29" y="502.6" width="7" height="63.4" fill="#ef232a"/>
<rect x="421.32" y="497.2" width="7" height="68.8" fill="#ef232a"/>
<rect x="430.34" y="500.2" width="7" height="65.8" fill="#14b143"/>
<rect x="439.37" y="509.6" width="7" height="56.4" fill="#14b143"/>
<rect x="448.39" y="524.1" width="7" height="41.9" fill="#14b143"/>
<rect x="457.42" y="496.2" width="7" height="69.8" fill="#ef232a"/>
<rect x="466.44" y="510.2" width="7" height="55.8" fill="#14b143"/>
<rect x="475.47" y="510.8" width="7" height="55.2" fill="#14b143"/>
<rect x="484.49" y="493.7" width="7" height="72.3" fill="#ef232a"/>
<rect x="493.52" y="513.2" width="7" height="52.8" fill="#14b143"/>
<rect x="502.54" y="522.8" width="7" height="43.2" fill="#14b143"/>
<rect x="511.57" y="531.3" width="7" height="34.7" fill="#ef232a"/>
<rect x="520.59" y="536.7" width="7" height="29.3" fill="#14b143"/>
<rect x="529.62" y="524.9" width="7" height="41.1" fill="#14b143"/>
<rect x="538.64" y="533.3" width="7" height="32.7" fill="#ef232a"/>
<rect x="547.67" y="533.3" width="7" height="32.7" fill="#ef232a"/>
<rect x="556.70" y="527.1" width="7" height="38.9" fill="#ef232a"/>
<rect x="565.72" y="538.9" width="7" height="27.1" fill="#14b143"/>
<rect x="574.75" y="531.3" width="7" height="34.7" fill="#ef232a"/>
<rect x="583.77" y="521.8" width="7" height="44.2" fill="#ef232a"/>
<rect x="592.80" y="534.9" width="7" height="31.1" fill="#14b143"/>
<rect x="601.82" y="547.9" width="7" height="18.1" fill="#ef232a"/>
<rect x="610.85" y="536.9" width="7" height="29.1" fill="#ef232a"/>
<rect x="619.87" y="524.9" width="7" height="41.1" fill="#ef232a"/>
<rect x="628.90" y="530.3" width="7" height="35.7" fill="#14b143"/>
<rect x="637.92" y="531.9" width="7" height="34.1" fill="#14b143"/>
<rect x="646.95" y="532.7" width="7" height="33.3" fill="#ef232a"/>
<rect x="655.97" y="535.3" width="7" height="30.7" fill="#14b143"/>
<rect x="665.00" y="523.9" width="7" height="42.1" fill="#14b143"/>
<rect x="674.02" y="526.7" width="7" height="39.3" fill="#14b143"/>
<rect x="683.05" y="511.6" width="7" height="54.4" fill="#ef232a"/>
<rect x="692.08" y="516.2" width="7" height="49.8" fill="#14b143"/>
<rect x="701.10" y="521.2" width="7" height="44.8" fill="#ef232a"/>
<rect x="710.13" y="515.6" width="7" height="50.4" fill="#ef232a"/>
<rect x="719.15" y="513.6" width="7" height="52.4" fill="#14b143"/>
<rect x="728.18" y="501.6" width="7" height="64.4" fill="#14b143"/>
<rect x="737.20" y="508.8" width="7" height="57.2" fill="#14b143"/>
<rect x="746.23" y="507.6" width="7" height="58.4" fill="#ef232a"/>
<rect x="755.25" y="476.1" width="7" height="89.9" fill="#14b143"/>
<rect x="764.28" y="482.1" width="7" height="83.9" fill="#ef232a"/>
<rect x="773.30" y="500.2" width="7" height="65.8" fill="#14b143"/>
<rect x="782.33" y="521.2" width="7" height="44.8" fill="#14b143"/>
<rect x="791.35" y="503.2" width="7" height="62.8" fill="#14b143"/>
<rect x="800.38" y="505.6" width="7" height="60.4" fill="#ef232a"/>
<rect x="809.40" y="512.6" width="7" height="53.4" fill="#14b143"/>
<rect x="818.43" y="519.6" width="7" height="46.4" fill="#ef232a"/>
<rect x="827.46" y="493.1" width="7" height="72.9" fill="#14b143"/>
<rect x="836.48" y="498.8" width="7" height="67.2" fill="#14b143"/>
<rect x="845.51" y="478.5" width="7" height="87.5" fill="#ef232a"/>
<rect x="854.53" y="494.1" width="7" height="71.9" fill="#ef232a"/>
<rect x="863.56" y="479.5" width="7" height="86.5" fill="#ef232a"/>
<rect x="872.58" y="480.5" width="7" height="85.5" fill="#ef232a"/>
<rect x="881.61" y="500.2" width="7" height="65.8" fill="#14b143"/>
<rect x="890.63" y="502.2" width="7" height="63.8" fill="#ef232a"/>
<rect x="899.66" y="498.8" width="7" height="67.2" fill="#14b143"/>
<rect x="908.68" y="489.7" width="7" height="76.3" fill="#ef232a"/>
<rect x="917.71" y="513.8" width="7" height="52.2" fill="#14b143"/>
<rect x="926.73" y="500.8" width="7" height="65.2" fill="#14b143"/>
<rect x="935.76" y="503.8" width="7" height="62.2" fill="#14b143"/>
<rect x="944.78" y="501.8" width="7" height="64.2" fill="#14b143"/>
<rect x="953.81" y="491.1" width="7" height="74.9" fill="#ef232a"/>
<rect x="962.84" y="493.1" width="7" height="72.9" fill="#ef232a"/>
<rect x="971.86" y="505.6" width="7" height="60.4" fill="#14b143"/>
<rect x="980.89" y="491.5" width="7" height="74.5" fill="#ef232a"/>
<rect x="989.91" y="479.1" width="7" height="86.9" fill="#14b143"/>
<rect x="998.94" y="467.7" width="7" height="98.3" fill="#14b143"/>
<rect x="1007.96" y="459.0" width="7" height="107.0" fill="#14b143"/>
<rect x="1016.99" y="476.7" width="7" height="89.3" fill="#ef232a"/>
<rect x="1026.01" y="492.7" width="7" height="73.3" fill="#14b143"/>
<rect x="1035.04" y="488.7" width="7" height="77.3" fill="#ef232a"/>
<rect x="1044.06" y="504.6" width="7" height="61.4" fill="#14b143"/>
<rect x="1053.09" y="505.8" width="7" height="60.2" fill="#14b143"/>
<rect x="1062.11" y="500.8" width="7" height="65.2" fill="#ef232a"/>
<rect x="1071.14" y="498.8" width="7" height="67.2" fill="#ef232a"/>
<rect x="1080.17" y="508.8" width="7" height="57.2" fill="#ef232a"/>
<rect x="1089.19" y="508.8" width="7" height="57.2" fill="#14b143"/>
<rect x="1098.22" y="530.3" width="7" height="35.7" fill="#14b143"/>
<rect x="1107.24" y="498.7" width="7" height="67.3" fill="#ef232a"/>
<rect x="1116.27" y="502.2" width="7" height="63.8" fill="#14b143"/>
<rect x="1125.29" y="501.6" width="7" height="64.4" fill="#ef232a"/>
<rect x="1134.32" y="500.2" width="7" height="65.8" fill="#14b143"/>
<rect x="1143.34" y="491.1" width="7" height="74.9" fill="#14b143"/>
<rect x="1152.37" y="496.2" width="7" height="69.8" fill="#ef232a"/>
<rect x="1161.39" y="491.7" width="7" height="74.3" fill="#14b143"/>
<rect x="1170.42" y="474.1" width="7" height="91.9" fill="#ef232a"/>
<rect x="1179.44" y="474.1" width="7" height="91.9" fill="#ef232a"/>
<rect x="1188.47" y="492.7" width="7" height="73.3" fill="#ef232a"/>
<rect x="1197.49" y="487.1" width="7" height="78.9" fill="#14b143"/>
<rect x="1206.52" y="497.6" width="7" height="68.4" fill="#ef232a"/>
<rect x="1215.55" y="475.1" width="7" height="90.9" fill="#ef232a"/>
<rect x="1224.57" y="482.1" width="7" height="83.9" fill="#ef232a"/>
<rect x="1233.60" y="485.1" width="7" height="80.9" fill="#ef232a"/>
<rect x="1242.62" y="496.6" width="7" height="69.4" fill="#14b143"/>
<rect x="1251.65" y="500.2" width="7" height="65.8" fill="#14b143"/>
<rect x="1260.67" y="500.2" width="7" height="65.8" fill="#ef232a"/>
<rect x="1269.70" y="496.2" width="7" height="69.8" fill="#ef232a"/>
<rect x="1278.72" y="503.8" width="7" height="62.2" fill="#14b143"/>
<rect x="1287.75" y="510.2" width="7" height="55.8" fill="#ef232a"/>
<rect x="1296.77" y="501.8" width="7" height="64.2" fill="#14b143"/>
<rect x="1305.80" y="488.7" width="7" height="77.3" fill="#ef232a"/>
<rect x="1314.82" y="500.2" width="7" height="65.8" fill="#14b143"/>
<rect x="1323.85" y="501.2" width="7" height="64.8" fill="#ef232a"/>
<rect x="1332.87" y="504.2" width="7" height="61.8" fill="#ef232a"/>
<rect x="1341.90" y="543.3" width="7" height="22.7" fill="#14b143"/>
<line x1="27" y1="566.5" x2="1345" y2="566.5" stroke="#333" stroke-width="1"/>
<g>
<rect x="1248" y="543" width="37.4" height="39" rx="6" fill="none" stroke="#000" stroke-opacity="0.05" stroke-width="1.5"/>
<path fill-rule="evenodd" fill="#fff" fill-opacity="0.33" d="M1253.4,542 H1279.4 Q1285.4,542 1285.4,548 V575 Q1285.4,581 1279.4,581 H1253.4 Q1247.4,581 1247.4,575 V548 Q1247.4,542 1253.4,542 Z M1266,546 A11.5,11.5 0 1,0 1266.01,546 Z"/>
<path d="M1253,571 L1260,576 M1263,573 H1272 M1276,569 L1272,574" fill="none" stroke="#000" stroke-opacity="0.035" stroke-width="1.5"/>
<path d="M1256,563 Q1260,552 1270,550 M1262,557 Q1266,556 1269,559 M1270,551 Q1277,556 1275,566" fill="none" stroke="#fff" stroke-opacity="0.3" stroke-width="1.6"/>
<text x="1297.5" y="576.2" font-size="35" fill="none" stroke="#000" stroke-opacity="0.06" stroke-width="1.2" textLength="104" lengthAdjust="spacingAndGlyphs">WikiFX</text>
<text x="1297" y="575.5" font-size="35" fill="#fff" fill-opacity="0.35" textLength="104" lengthAdjust="spacingAndGlyphs">WikiFX</text>
</g>
</svg></body></html>
